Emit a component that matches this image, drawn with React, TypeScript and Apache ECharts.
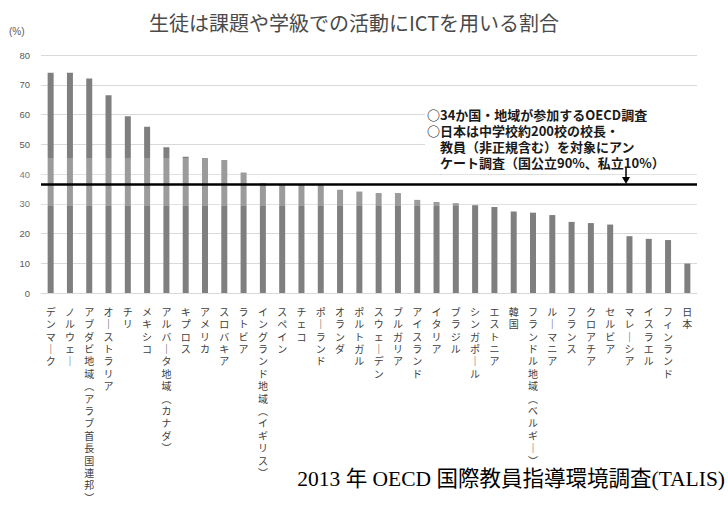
import React, { useEffect, useRef } from "react";
import * as echarts from "echarts";

const categories = [
  "デンマーク", "ノルウェー", "アブダビ地域（アラブ首長国連邦）", "オーストラリア", "チリ", "メキシコ",
  "アルバータ地域（カナダ）", "キプロス", "アメリカ", "スロバキア", "ラトビア", "イングランド地域（イギリス）",
  "スペイン", "チェコ", "ポーランド", "オランダ", "ポルトガル", "スウェーデン", "ブルガリア", "アイスランド",
  "イタリア", "ブラジル", "シンガポール", "エストニア", "韓国", "フランドル地域（ベルギー）", "ルーマニア",
  "フランス", "クロアチア", "セルビア", "マレーシア", "イスラエル", "フィンランド", "日本",
];

const values = [
  74.0, 74.0, 72.1, 66.5, 59.4, 55.9, 49.0, 45.8, 45.4, 44.7,
  40.5, 36.9, 36.3, 36.3, 36.3, 34.7, 34.1, 33.6, 33.6, 31.3,
  30.6, 30.2, 29.6, 28.9, 27.4, 27.0, 26.2, 23.9, 23.5, 23.0,
  19.1, 18.2, 17.8, 9.9,
];

const averageValue = 36.7;

const titleText = "生徒は課題や学級での活動にICTを用いる割合";
const noteLines = [
  "○34か国・地域が参加するOECD調査",
  "○日本は中学校約200校の校長・",
  "　教員（非正規含む）を対象にアン",
  "　ケート調査（国公立90%、私立10%）",
];
const sourceText = "2013 年 OECD 国際教員指導環境調査(TALIS)";

function verticalize(s: string): string {
  return Array.from(s)
    .map((c) => (c === "ー" ? "｜" : c === "（" ? "︵" : c === "）" ? "︶" : c))
    .join("\n");
}

export default function App() {
  const ref = useRef<HTMLDivElement>(null);
  useEffect(() => {
    if (!ref.current) return;
    const chart = echarts.init(ref.current, undefined, { renderer: "svg" });
    const cjk = "'Noto Sans CJK JP', 'Noto Sans', sans-serif";
    const noteTexts = noteLines.map((line, i) => ({
      type: "text",
      z: 11,
      x: 427,
      y: 108 + i * 16,
      style: {
        text: line,
        fontFamily: cjk,
        fontSize: 13,
        fontWeight: "bold",
        fill: "#1a1a1a",
      },
    }));
    chart.setOption({
      animation: false,
      backgroundColor: "#ffffff",
      title: {
        text: titleText,
        left: 349,
        textAlign: "center",
        top: 7,
        textStyle: { fontFamily: cjk, fontSize: 20, fontWeight: "normal", color: "#4a4a4a" },
      },
      grid: { left: 41, right: 31, top: 55, bottom: 217, containLabel: false },
      xAxis: {
        type: "category",
        data: categories,
        axisLine: { show: true, lineStyle: { color: "#d9d9d9" } },
        axisTick: { show: false },
        axisLabel: {
          interval: 0,
          formatter: (v: string) => verticalize(v),
          fontFamily: cjk,
          fontSize: 10,
          lineHeight: 12.4,
          color: "#404040",
          margin: 12,
          verticalAlign: "top",
        },
      },
      yAxis: {
        type: "value",
        min: 0,
        max: 80,
        interval: 10,
        axisLine: { show: false },
        axisTick: { show: false },
        splitLine: { lineStyle: { color: "#d9d9d9", width: 1 } },
        axisLabel: { fontFamily: "'Liberation Sans', sans-serif", fontSize: 9.5, color: "#595959", margin: 11 },
      },
      series: [
        {
          type: "bar",
          data: values,
          barWidth: 6,
          z: 2,
          itemStyle: { color: "#7f7f7f" },
        },
        {
          type: "line",
          data: [],
          z: 6,
          markLine: {
            silent: true,
            symbol: ["none", "none"],
            label: { show: false },
            lineStyle: { color: "#000000", width: 2.6, type: "solid" },
            data: [{ yAxis: averageValue }],
          },
        },
      ],
      graphic: [
        {
          type: "rect",
          z: 3,
          shape: { x: 0, y: 158, width: 700, height: 48 },
          style: { fill: "rgba(255,255,255,0.22)" },
        },
        {
          type: "text",
          left: 9,
          top: 26,
          style: { text: "(%)", fontFamily: "'Liberation Sans', sans-serif", fontSize: 10, fill: "#595959" },
        },
        {
          type: "rect",
          z: 10,
          shape: { x: 425, y: 106, width: 282, height: 63 },
          style: { fill: "#ffffff" },
        },
        ...noteTexts,
        {
          type: "line",
          z: 11,
          shape: { x1: 626, y1: 168, x2: 626, y2: 179 },
          style: { stroke: "#000000", lineWidth: 1.5 },
        },
        {
          type: "polygon",
          z: 11,
          shape: { points: [[622, 177], [630, 177], [626, 184]] },
          style: { fill: "#000000" },
        },
        {
          type: "text",
          z: 11,
          right: 3,
          top: 468,
          style: {
            text: sourceText,
            fontFamily: "'Liberation Serif', 'Noto Sans CJK JP', serif",
            fontSize: 21.5,
            fill: "#000000",
          },
        },
      ],
    });
    return () => chart.dispose();
  }, []);
  return <div ref={ref} style={{ width: 728, height: 510, position: "fixed", left: 0, top: 0 }} />;
}
